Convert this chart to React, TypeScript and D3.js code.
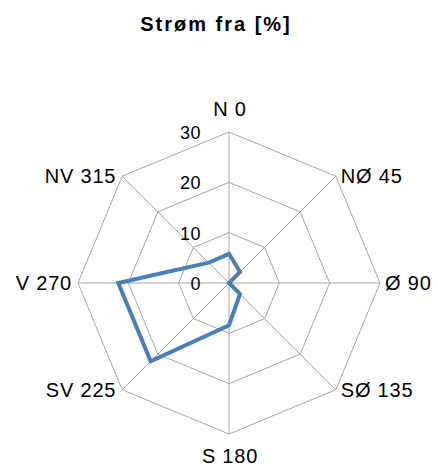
import * as d3 from "d3";
import * as React from "react";

const directions = ["N 0", "NØ 45", "Ø 90", "SØ 135", "S 180", "SV 225", "V 270", "NV 315"];
const values = [5.8, 3.1, 0, 3.1, 8.4, 22, 22, 5.7];
const ticks = [0, 10, 20, 30];
const title = "Strøm fra [%]";

const width = 438;
const height = 468;
const cx = 229;
const cy = 283;
const radius = 151;

export default function App() {
  const r = d3.scaleLinear().domain([0, 30]).range([0, radius]);
  const step = (2 * Math.PI) / directions.length;
  const a = (i: number) => i * step;
  const pt = (i: number, v: number): [number, number] => [
    Math.sin(a(i)) * r(v),
    -Math.cos(a(i)) * r(v),
  ];

  const ring = (v: number) => directions.map((_, i) => pt(i, v));
  const closed = d3.line().curve(d3.curveLinearClosed);
  const dataPath = closed(values.map((v, i) => pt(i, v)));

  // label placement per direction
  const labelProps = (i: number) => {
    const [x, y] = pt(i, 30);
    const s = Math.sin(a(i));
    const c = -Math.cos(a(i));
    if (Math.abs(s) < 0.01) {
      return { x: x + 1, y: c < 0 ? y - 16 : y + 29, anchor: "middle" };
    }
    return { x: s > 0 ? x + 5 : x - 6, y: y + 7, anchor: s > 0 ? "start" : "end" };
  };

  return (
    <svg width={width} height={height} style={{ position: "absolute", left: 0, top: 0, background: "#fff" }}
      fontFamily="'Liberation Sans', Arial, sans-serif">
      <text x={216} y={31} textAnchor="middle" fontWeight="bold" fontSize={20} letterSpacing={2} fill="#000">{title}</text>
      <g transform={"translate(" + cx + "," + cy + ")"}>
        {ticks.filter((t) => t > 0).map((t) => (
          <path key={"ring" + t} d={closed(ring(t)) as string} fill="none" stroke="#a6a6a6" strokeWidth={1} />
        ))}
        {directions.map((d, i) => {
          const [x, y] = pt(i, 30);
          return <line key={"spoke" + d} x1={0} y1={0} x2={x} y2={y} stroke="#a6a6a6" strokeWidth={1} />;
        })}
        {ticks.map((t) => (
          <text key={"tick" + t} x={-28} y={-r(t) + 7} textAnchor="end" fontSize={18} letterSpacing={0.5} fill="#000">{t}</text>
        ))}
        <path d={dataPath as string} fill="none" stroke="#4a7ebb" strokeWidth={4} strokeLinejoin="miter" />
        {directions.map((d, i) => {
          const p = labelProps(i);
          return (
            <text key={"lab" + d} x={p.x} y={p.y} textAnchor={p.anchor as any} fontSize={20} letterSpacing={0.8} fill="#000">{d}</text>
          );
        })}
      </g>
    </svg>
  );
}
